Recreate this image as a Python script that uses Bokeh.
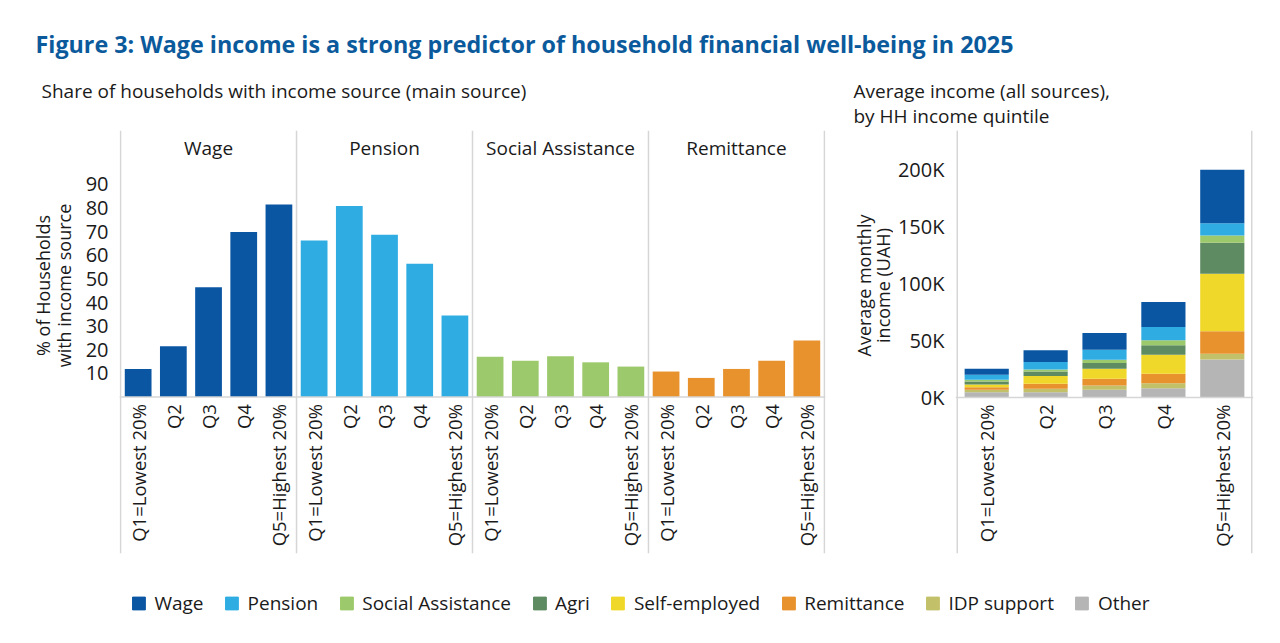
import math
from bokeh.plotting import figure
from bokeh.models import (Range1d, FixedTicker, Span, Label, Legend, LegendItem,
                          ColumnDataSource)
from bokeh.layouts import column, row
from bokeh.embed import file_html
from bokeh.resources import INLINE
from bokeh.core.properties import value

FONT = "Open Sans"

# ---------------- data ----------------
quintiles = ["Q1=Lowest 20%", "Q2", "Q3", "Q4", "Q5=Highest 20%"]
panels = ["Wage", "Pension", "Social Assistance", "Remittance"]

share_wage = [11.9, 21.5, 46.5, 69.8, 81.5]
share_pension = [66.2, 80.8, 68.7, 56.4, 34.5]
share_social = [17.1, 15.4, 17.3, 14.7, 12.9]
share_remit = [10.8, 8.1, 11.9, 15.4, 23.9]
share_ticks = [10, 20, 30, 40, 50, 60, 70, 80, 90]

# average monthly income by source (UAH), stacking order bottom -> top
stack_order = ["Other", "IDP support", "Remittance", "Self-employed", "Agri",
               "Social Assistance", "Pension", "Wage"]
inc_other = [4700, 4700, 6800, 8200, 33400]
inc_idp = [2100, 3000, 3800, 4400, 5000]
inc_remit = [2300, 4400, 5900, 8300, 19900]
inc_self = [2400, 6700, 8800, 16700, 50400]
inc_agri = [2600, 4100, 4900, 8200, 27200]
inc_social = [1500, 1800, 3000, 4400, 6400]
inc_pension = [4400, 6400, 8800, 11700, 10800]
inc_wage = [5300, 10300, 14600, 22000, 46900]
income_ticks = [0, 50000, 100000, 150000, 200000]
income_tick_labels = ["0K", "50K", "100K", "150K", "200K"]

legend_order = ["Wage", "Pension", "Social Assistance", "Agri", "Self-employed",
                "Remittance", "IDP support", "Other"]
colors = {
    "Wage": "#0a56a3",
    "Pension": "#2fade3",
    "Social Assistance": "#9cc96b",
    "Agri": "#5e8b62",
    "Self-employed": "#f0d82a",
    "Remittance": "#e8922e",
    "IDP support": "#c3c06a",
    "Other": "#b5b5b5",
}

TXT = "#1a1a1a"
DIV = "#d6d6d6"
ROW_H = 443


def clean(p):
    p.xgrid.visible = False
    p.ygrid.visible = False
    p.outline_line_color = None
    p.background_fill_color = "white"
    p.border_fill_color = "white"


def blank(w, h):
    f = figure(width=w, height=h, output_backend="svg", toolbar_location=None,
               x_range=Range1d(0, 1), y_range=Range1d(0, 1),
               x_axis_location=None, y_axis_location=None, min_border=0)
    clean(f)
    return f


def txt(f, x, y, text, size="19px", angle=0.0, align="left", **kw):
    f.add_layout(Label(x=x, y=y, x_units="screen", y_units="screen", text=text,
                       angle=angle, text_font=FONT, text_font_size=size,
                       text_color=kw.pop("color", TXT), text_align=align,
                       text_baseline="middle", **kw))


def style_yaxis(ax, ticks, standoff):
    ax.ticker = FixedTicker(ticks=ticks)
    ax.axis_line_color = None
    ax.major_tick_line_color = None
    ax.minor_tick_line_color = None
    ax.major_tick_out = 0
    ax.major_tick_in = 0
    ax.minor_tick_out = 0
    ax.minor_tick_in = 0
    ax.major_label_standoff = standoff
    ax.major_label_text_font = FONT
    ax.major_label_text_font_size = "20px"
    ax.major_label_text_color = TXT


# ---------------- header ----------------
hdr = blank(1280, 127)
txt(hdr, 35, 84, "Figure 3: Wage income is a strong predictor of household financial well-being in 2025",
    size="23.3px", color="#0b5a9c", text_font_style="bold")
txt(hdr, 41, 37, "Share of households with income source (main source)")
txt(hdr, 853, 37, "Average income (all sources),")
txt(hdr, 853, 12, "by HH income quintile")

# ---------------- left y title ----------------
ytl = blank(75, ROW_H)
txt(ytl, 42, 268, "% of Households", size="18px", angle=math.pi / 2, align="center")
txt(ytl, 63, 268, "with income source", size="18px", angle=math.pi / 2, align="center")

# ---------------- left chart ----------------
shares = [share_wage, share_pension, share_social, share_remit]
xs, tops, cols, qlabels = [], [], [], []
for pi_, (name, vals) in enumerate(zip(panels, shares)):
    for qi, v in enumerate(vals):
        xs.append(pi_ * len(quintiles) + qi)
        tops.append(v)
        cols.append(colors[name])
        qlabels.append(quintiles[qi])
src_l = ColumnDataSource(dict(x=xs, top=tops, color=cols, lab=qlabels, y0=[0] * len(xs)))

n = len(xs)
left = figure(width=773, height=ROW_H, output_backend="svg", toolbar_location=None,
              x_range=Range1d(-0.53, n - 0.47), y_range=Range1d(-66.2, 112.8),
              x_axis_location=None, min_border_left=44, min_border_right=23,
              min_border_top=3, min_border_bottom=17)
clean(left)
left.vbar(x="x", top="top", width=0.76, fill_color="color", line_color=None, source=src_l)
left.text(x="x", y="y0", text="lab", source=src_l, angle=math.pi / 2,
          text_align="right", text_baseline="middle", y_offset=7,
          text_font=value(FONT), text_font_size="18.5px", text_color=TXT)
left.add_layout(Span(location=0, dimension="width", line_color=DIV, line_width=1.5))
for k in range(len(panels) + 1):
    left.add_layout(Span(location=k * len(quintiles) - 0.5, dimension="height",
                         line_color=DIV, line_width=1.5))
for k, name in enumerate(panels):
    left.add_layout(Label(x=k * len(quintiles) + (len(quintiles) - 1) / 2, y=406,
                          x_units="data", y_units="screen", text=name,
                          text_font=FONT, text_font_size="19px", text_color=TXT,
                          text_align="center", text_baseline="middle"))
style_yaxis(left.yaxis[0], share_ticks, 11)

# ---------------- right y title ----------------
ytr = blank(45, ROW_H)
txt(ytr, 15, 268, "Average monthly", size="18px", angle=math.pi / 2, align="center")
txt(ytr, 34, 268, "income (UAH)", size="18px", angle=math.pi / 2, align="center")

# ---------------- right chart ----------------
inc = {"Other": inc_other, "IDP support": inc_idp, "Remittance": inc_remit,
       "Self-employed": inc_self, "Agri": inc_agri, "Social Assistance": inc_social,
       "Pension": inc_pension, "Wage": inc_wage}
nq = len(quintiles)
data_r = dict(x=list(range(nq)), q=quintiles, y0=[0] * nq)
data_r.update(inc)
src_r = ColumnDataSource(data_r)

right = figure(width=387, height=ROW_H, output_backend="svg", toolbar_location=None,
               x_range=Range1d(-0.53, nq - 0.47),
               y_range=Range1d(-137000, 234500),
               x_axis_location=None, min_border_left=62, min_border_right=27,
               min_border_top=3, min_border_bottom=17)
clean(right)
right.vbar_stack(stack_order, x="x", width=0.75, color=[colors[s] for s in stack_order],
                 line_color=None, source=src_r)
right.text(x="x", y="y0", text="q", source=src_r, angle=math.pi / 2,
           text_align="right", text_baseline="middle", y_offset=7,
           text_font=value(FONT), text_font_size="18.5px", text_color=TXT)
right.add_layout(Span(location=0, dimension="width", line_color=DIV, line_width=1.5))
right.add_layout(Span(location=-0.5, dimension="height", line_color=DIV, line_width=1.5))
right.add_layout(Span(location=nq - 0.5, dimension="height", line_color=DIV, line_width=1.5))
style_yaxis(right.yaxis[0], income_ticks, 11)
right.yaxis[0].major_label_overrides = {t: l for t, l in zip(income_ticks, income_tick_labels)}

# ---------------- legend ----------------
leg = blank(1280, 65)
items = []
nan = float("nan")
for s in legend_order:
    r = leg.vbar(x=[nan], top=[nan], width=1, fill_color=colors[s], line_color=colors[s])
    items.append(LegendItem(label=s, renderers=[r]))
lg = Legend(items=items, orientation="horizontal", location="center",
            glyph_width=16, glyph_height=16, label_standoff=8, spacing=20,
            label_text_font=FONT, label_text_font_size="19px", label_text_color=TXT,
            border_line_color=None, background_fill_alpha=0, padding=0, margin=0)
leg.add_layout(lg, "center")

layout = column(hdr, row(ytl, left, ytr, right), leg)
open("out.html", "w").write(file_html(layout, INLINE))
